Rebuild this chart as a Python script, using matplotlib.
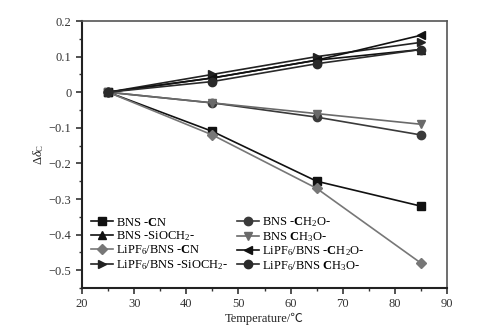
import matplotlib
matplotlib.use("Agg")
import matplotlib.pyplot as plt
from matplotlib.ticker import MultipleLocator

plt.rcParams['font.family'] = ['Liberation Serif', 'DejaVu Serif']
plt.rcParams['mathtext.fontset'] = 'custom'
plt.rcParams['mathtext.rm'] = 'Liberation Serif'
plt.rcParams['mathtext.it'] = 'Liberation Serif:italic'
plt.rcParams['mathtext.bf'] = 'Liberation Serif:bold'
plt.rcParams['mathtext.default'] = 'regular'

temperature = [25, 45, 65, 85]

labels = [
    r"BNS -$\mathbf{C}$N",
    r"BNS -SiOCH$_2$-",
    r"LiPF$_6$/BNS -$\mathbf{C}$N",
    r"LiPF$_6$/BNS -SiOCH$_2$-",
    r"BNS -$\mathbf{C}$H$_2$O-",
    r"BNS $\mathbf{C}$H$_3$O-",
    r"LiPF$_6$/BNS -$\mathbf{C}$H$_2$O-",
    r"LiPF$_6$/BNS $\mathbf{C}$H$_3$O-",
]

bns_cn = [0, -0.11, -0.25, -0.32]
bns_sioch2 = [0, 0.04, 0.09, 0.12]
lipf6_cn = [0, -0.12, -0.27, -0.48]
lipf6_sioch2 = [0, 0.05, 0.10, 0.14]
bns_ch2o = [0, -0.03, -0.07, -0.12]
bns_ch3o = [0, -0.03, -0.06, -0.09]
lipf6_ch2o = [0, 0.04, 0.09, 0.16]
lipf6_ch3o = [0, 0.03, 0.08, 0.12]

series = [bns_cn, bns_sioch2, lipf6_cn, lipf6_sioch2,
          bns_ch2o, bns_ch3o, lipf6_ch2o, lipf6_ch3o]
markers = ['s', '^', 'D', '>', 'o', 'v', '<', 'o']
colors = ['#111111', '#111111', '#777777', '#222222',
          '#3a3a3a', '#6a6a6a', '#111111', '#2a2a2a']
msizes = [5.5, 6, 5, 6, 6, 6, 6, 6]

fig = plt.figure(figsize=(5.01, 3.29), dpi=100)
ax = fig.add_axes([0.1637, 0.1246, 0.7285, 0.8115])

handles = []
for y, m, c, ms, lab in zip(series, markers, colors, msizes, labels):
    h, = ax.plot(temperature, y, marker=m, color=c, markersize=ms,
                 linewidth=1.2, label=lab)
    handles.append(h)

ax.set_xlim(20, 90)
ax.set_ylim(-0.55, 0.2)
ax.xaxis.set_major_locator(MultipleLocator(10))
ax.xaxis.set_minor_locator(MultipleLocator(5))
ax.yaxis.set_major_locator(MultipleLocator(0.1))
ax.yaxis.set_minor_locator(MultipleLocator(0.05))
ax.set_yticks([0.2, 0.1, 0, -0.1, -0.2, -0.3, -0.4, -0.5])
ax.set_yticklabels(['0.2', '0.1', '0', '\u22120.1', '\u22120.2', '\u22120.3', '\u22120.4', '\u22120.5'])
ax.tick_params(which='both', direction='out', top=False, right=False, labelsize=9, colors='#333333')
ax.tick_params(which='major', length=4, width=1.2)
ax.tick_params(which='minor', length=2.5, width=1)
for s in ['left', 'bottom']:
    ax.spines[s].set_linewidth(1.5)
    ax.spines[s].set_color('#222222')
for s in ['top', 'right']:
    ax.spines[s].set_linewidth(1.2)
    ax.spines[s].set_color('#555555')

ax.set_xlabel('Temperature/\u2103', fontsize=9, family=['Liberation Serif', 'Noto Sans CJK SC', 'DejaVu Sans'], color='#222222', labelpad=2)
ax.set_ylabel(r'$\mathit{\Delta\delta}_{C}$', fontsize=9, color='#222222', labelpad=2)

leg = ax.legend(handles=handles, ncol=2, loc='lower left',
                bbox_to_anchor=(0.0, 0.025), frameon=False, fontsize=9,
                handlelength=1.8, handletextpad=0.2, columnspacing=0.7,
                labelspacing=0.05, borderaxespad=0.3)

fig.savefig('out.png', dpi=100)
